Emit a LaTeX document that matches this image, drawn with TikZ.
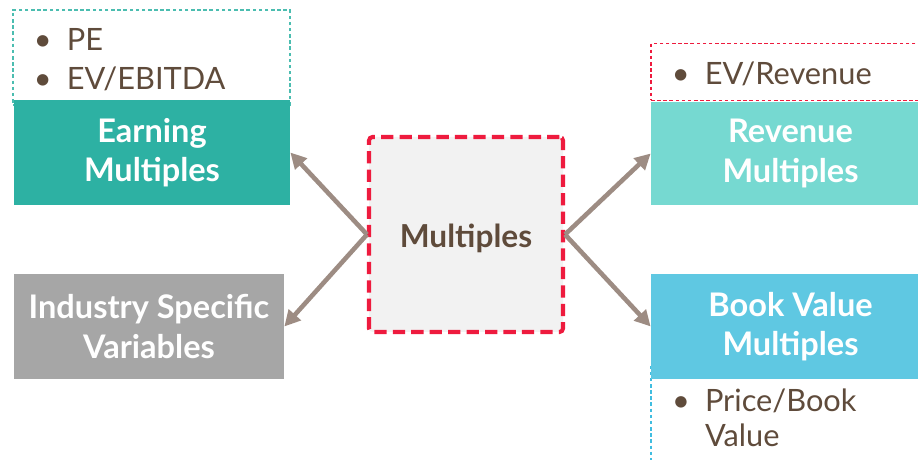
\documentclass[tikz,border=0pt]{standalone}
\usepackage{fontspec}
\setmainfont{Lato}
\usepackage{tikz}
\usetikzlibrary{arrows.meta, calc}
\definecolor{earn}{RGB}{45, 177, 163}
\definecolor{revenue}{RGB}{118, 217, 209}
\definecolor{book}{RGB}{95, 200, 226}
\definecolor{industry}{RGB}{166, 166, 166}
\definecolor{panel}{RGB}{242, 242, 242}
\definecolor{redline}{RGB}{238, 27, 62}
\definecolor{brown}{RGB}{95, 75, 59}
\definecolor{arrowgray}{RGB}{157, 140, 131}
\definecolor{tealline}{RGB}{75, 189, 176}
\definecolor{cyanline}{RGB}{64, 189, 224}

\begin{document}
\begin{tikzpicture}[
    heading/.style={fill=#1, draw=none, text=white, font=\bfseries\fontsize{18.5}{22.5}\selectfont,
      align=center, minimum height=2.1cm, inner sep=0pt},
    listbox/.style={draw=#1, line width=0.6pt, dash pattern=on 2pt off 1.5pt, inner sep=0pt},
    listtext/.style={text=brown, font=\fontsize{17.5}{21}\selectfont, inner sep=0pt, anchor=north west},
    conn/.style={draw=arrowgray, line width=2.6pt, -{Triangle[length=9pt, width=9pt]}}
  ]
  \clip (0, 0) rectangle (18.36, 9.18);

  % dashed frames round the bullet lists
  \node[listbox=tealline, minimum width=5.54cm, minimum height=1.9cm] (earntop) at (3.03, 8.03) {};
  \node[listbox=redline, minimum width=5.58cm, minimum height=1.14cm] (revtop) at (15.81, 7.74) {};
  \node[listbox=cyanline, minimum width=5.58cm, minimum height=2.4cm] (booktop) at (15.81, 0.64) {};

  % the four groups of multiples
  \node[heading=earn, minimum width=5.52cm] (earn) at (3.04, 6.13) {Earning\\Multiples};
  \node[heading=industry, minimum width=5.4cm] (ind) at (2.98, 2.65) {Industry Specific\\Variables};
  \node[heading=revenue, minimum width=5.58cm, minimum height=2.07cm] (rev) at (15.81, 6.11) {Revenue\\Multiples};
  \node[heading=book, minimum width=5.58cm] (book) at (15.81, 2.65) {Book Value\\Multiples};

  % centre box
  \node[fill=panel, draw=redline, line width=2.3pt, dash pattern=on 7pt off 3.5pt, rounded corners=2pt,
    minimum width=3.88cm, minimum height=3.9cm, text=brown, font=\bfseries\fontsize{18}{21}\selectfont] (mult) at (9.32, 4.49) {\raisebox{-7.5pt}[0pt][0pt]{Multiples}};

  % bullet lists
  \node[listtext] (earnlist) at ($(earntop.north west)+(0.42, -0.3)$) {%
    \begin{tabular}{@{}p{0.66cm}@{}l@{}}
      \textbullet & PE\\[1pt]
      \textbullet & EV/EBITDA
    \end{tabular}};
  \node[listtext] (revlist) at ($(revtop.north west)+(0.42, -0.3)$) {%
    \begin{tabular}{@{}p{0.66cm}@{}l@{}}
      \textbullet & EV/Revenue
    \end{tabular}};
  \node[listtext] (booklist) at ($(book.south west)+(0.42, -0.12)$) {%
    \begin{tabular}{@{}p{0.66cm}@{}l@{}}
      \textbullet & Price/Book\\[-1pt]
                  & Value
    \end{tabular}};

  % arrows out of the centre
  \draw[conn] (mult.west) -- (earn.east);
  \draw[conn] (mult.west) -- (ind.east);
  \draw[conn] (mult.east) -- (rev.west);
  \draw[conn] (mult.east) -- (book.west);
\end{tikzpicture}
\end{document}
